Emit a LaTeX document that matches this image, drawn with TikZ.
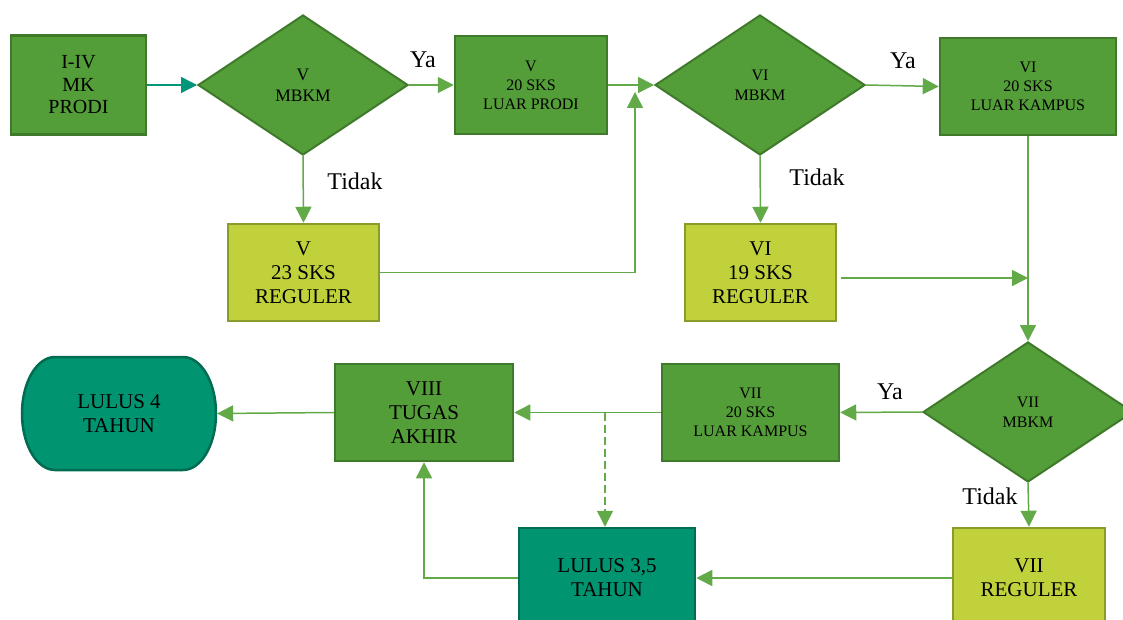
\documentclass[tikz,border=0pt]{standalone}
\usepackage{fontspec}
\setmainfont{Liberation Serif}
\usetikzlibrary{shapes.geometric,arrows.meta}
\definecolor{dg}{RGB}{84,158,57}
\definecolor{dgb}{RGB}{62,122,42}
\definecolor{yg}{RGB}{193,209,60}
\definecolor{ygb}{RGB}{137,155,45}
\definecolor{tl}{RGB}{0,148,112}
\definecolor{tlb}{RGB}{0,108,82}
\definecolor{ln}{RGB}{98,170,72}
\definecolor{tealln}{RGB}{0,150,122}
\newcommand\myfs[2]{\fontsize{#1}{#2}\selectfont}
\begin{document}
\begin{tikzpicture}[x=1pt,y=-1pt,
  basebox/.style={rectangle, line width=2.5pt, inner sep=0pt, align=center, text=black},
  greenbox/.style={basebox, draw=dgb, fill=dg},
  yellowbox/.style={basebox, draw=ygb, fill=yg},
  tealbox/.style={basebox, draw=tlb, fill=tl},
  dia/.style={diamond, draw=dgb, fill=dg, line width=2pt, inner sep=0pt, align=center,
    minimum width=210pt, minimum height=140pt},
  big/.style={font=\myfs{21}{24}},
  small/.style={font=\myfs{16}{19}},
  conn/.style={draw=ln, line width=1.5pt, -{Triangle[length=16pt,width=16pt]}},
  lbl/.style={font=\myfs{24}{26}, inner sep=0pt}
]
\fill[white] (0,0) rectangle (1123,620);
\useasboundingbox (0,0) rectangle (1123,620);

% terminator shape behind LULUS 4 TAHUN
\draw[draw=tlb, fill=tl, line width=2.5pt]
  (55,357) -- (183,357)
  arc[start angle=90, end angle=-90, x radius=33pt, y radius=56.5pt]
  -- (55,470)
  arc[start angle=270, end angle=90, x radius=33pt, y radius=56.5pt]
  -- cycle;

% nodes
\node[greenbox, font=\myfs{20}{22.5}, minimum width=135pt, minimum height=99pt] (A) at (78.5,85) {I-IV\\MK\\PRODI};
\node[dia, font=\myfs{17.5}{21}] (D1) at (303,85) {V\\MBKM};
\node[greenbox, small, minimum width=152pt, minimum height=98pt] (B) at (531,85) {V\\20 SKS\\LUAR PRODI};
\node[dia, font=\myfs{16}{20}] (D2) at (760,85) {VI\\MBKM};
\node[greenbox, small, minimum width=176pt, minimum height=97pt] (C) at (1028,86.5) {VI\\20 SKS\\LUAR KAMPUS};
\node[yellowbox, big, minimum width=151pt, minimum height=97pt] (E) at (303.5,272.5) {V\\23 SKS\\REGULER};
\node[yellowbox, big, minimum width=151pt, minimum height=97pt] (F) at (760.5,272.5) {VI\\19 SKS\\REGULER};
\node[dia, font=\myfs{16}{20}] (D3) at (1028,412) {VII\\MBKM};
\node[greenbox, small, minimum width=177pt, minimum height=97pt] (G) at (750.5,412.5) {VII\\20 SKS\\LUAR KAMPUS};
\node[greenbox, big, minimum width=178pt, minimum height=97pt] (H) at (424,412.5) {VIII\\TUGAS\\AKHIR};
\node[rectangle, inner sep=0pt, align=center, big, minimum width=196pt, minimum height=113pt] (L4) at (119,413.5) {LULUS 4\\TAHUN};
\node[tealbox, big, minimum width=176pt, minimum height=100pt] (I) at (607,578) {LULUS 3,5\\TAHUN};
\node[yellowbox, big, minimum width=152pt, minimum height=100pt] (J) at (1029,578) {VII\\REGULER};

% coordinates
\coordinate (m1) at (635,92);
\coordinate (m2) at (1028,278);
\coordinate (m3) at (605,412.5);

% connectors
\draw[conn, draw=tealln] (A.east) -- (D1.west);
\draw[conn] (D1.east) -- (B.west);
\draw[conn] (D1.south) -- (E.north);
\draw[conn] (E.east) -| (m1);
\draw[conn] (B.east) -- (D2.west);
\draw[conn] (D2.east) -- (C.west);
\draw[conn] (D2.south) -- (F.north);
\draw[conn, shorten <=4pt] (F.east |- m2) -- (m2);
\draw[conn] (C.south) -- (D3.north);
\draw[conn] (D3.west) -- (G.east);
\draw[conn] (G.west) -- (H.east);
\draw[conn, dash pattern=on 8pt off 4pt] (m3) -- (m3 |- I.north);
\draw[conn] (H.west) -- (L4.east);
\draw[conn] (D3.south) -- (J.north);
\draw[conn] (J.west) -- (I.east);
\draw[conn] (I.west) -| (H.south);

% labels
\node[lbl] (ya1) at (423,60) {Ya};
\node[lbl] (ya2) at (903,61) {Ya};
\node[lbl] (ya3) at (890,392) {Ya};
\node[lbl] (td1) at (355,181) {Tidak};
\node[lbl] (td2) at (817,177) {Tidak};
\node[lbl] (td3) at (990,496) {Tidak};
\end{tikzpicture}
\end{document}
